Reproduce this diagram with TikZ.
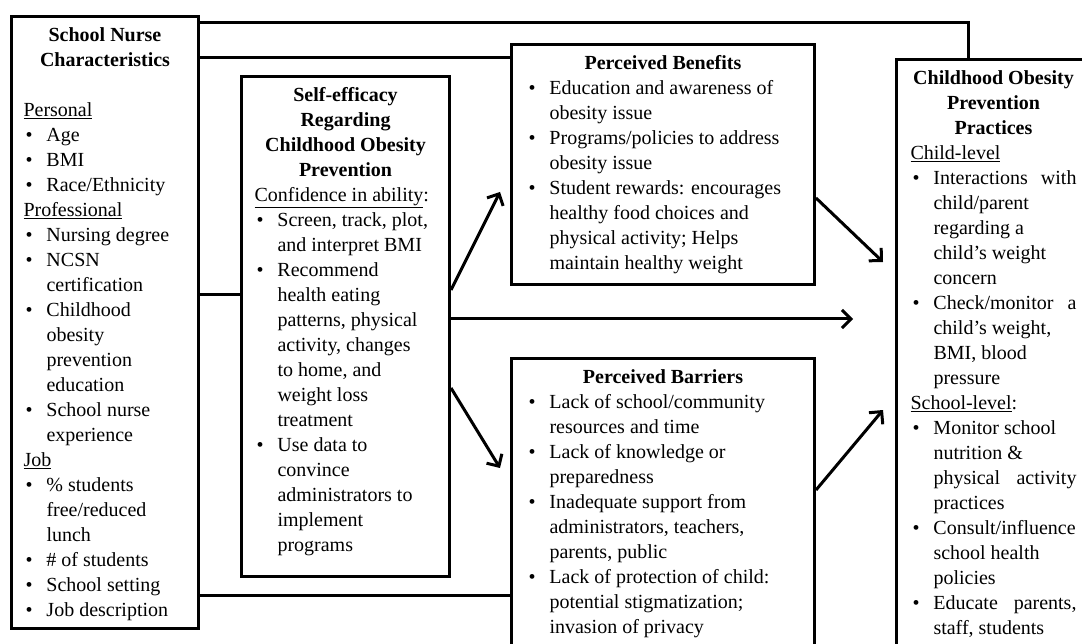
\documentclass[tikz,border=0pt]{standalone}
\usepackage{fontspec}
\setmainfont{Liberation Serif}
\usetikzlibrary{arrows.meta}
\newcommand{\boxtext}[3]{\begin{minipage}[c][#2][t]{#1}\fontsize{20}{25}\selectfont\raggedright\hyphenpenalty=10000\exhyphenpenalty=10000\vspace*{7.5pt}#3\end{minipage}}
\newcommand{\bi}[1]{\par\hangindent=23pt\hangafter=1\noindent\makebox[23pt][l]{\hspace{2pt}\textbullet}#1\par}
\newcommand{\ttl}[1]{{\centering\bfseries\strut #1\par}}
\tikzset{
  box/.style={draw, line width=3pt, inner ysep=0pt, anchor=north west, fill=white},
  conn/.style={line width=3pt},
  arr/.style={line width=3pt, -{Straight Barb[length=9pt,width=18pt,line width=3pt]}}
}
\begin{document}
\begin{tikzpicture}[x=1pt,y=-1pt]
\useasboundingbox (0,0) rectangle (1082,644);
\clip (0,0) rectangle (1082,644);
\fill[white] (0,0) rectangle (1082,644);

\node[box, inner xsep=12pt] (nurse) at (10,15) {\boxtext{163pt}{612pt}{%
\ttl{School Nurse\\Characteristics}
\mbox{}\par
\underline{Personal}\par
\bi{Age}
\bi{BMI}
\bi{Race/Ethnicity}
\underline{Professional}\par
\bi{Nursing degree}
\bi{NCSN\newline certification}
\bi{Childhood\newline obesity\newline prevention\newline education}
\bi{School nurse\newline experience}
\underline{Job}\par
\bi{\% students\newline free/reduced\newline lunch}
\bi{\# of students}
\bi{School setting}
\bi{Job description}}};

\node[box, inner xsep=13pt] (selfeff) at (240,75) {\boxtext{182pt}{500pt}{%
\ttl{Self-efficacy\\Regarding\\Childhood Obesity\\Prevention}
\underline{Confidence in ability}:\par
\bi{Screen, track, plot,\newline and interpret BMI}
\bi{Recommend\newline health eating\newline patterns, physical\newline activity, changes\newline to home, and\newline weight loss\newline treatment}
\bi{Use data to\newline convince\newline administrators to\newline implement\newline programs}}};

\node[box, inner xsep=15pt] (benefits) at (510,43) {\boxtext{273pt}{240pt}{%
\ttl{Perceived Benefits}
\bi{Education and awareness of\newline obesity issue}
\bi{Programs/policies to address\newline obesity issue}
\bi{Student rewards: encourages\newline healthy food choices and\newline physical activity; Helps\newline maintain healthy weight}}};

\node[box, inner xsep=15pt] (barriers) at (510,357) {\boxtext{273pt}{320pt}{%
\ttl{Perceived Barriers}
\bi{Lack of school/community\newline resources and time}
\bi{Lack of knowledge or\newline preparedness}
\bi{Inadequate support from\newline administrators, teachers,\newline parents, public}
\bi{Lack of protection of child:\newline potential stigmatization;\newline invasion of privacy}}};

\node[box, inner xsep=14pt] (practices) at (895,58) {\boxtext{166pt}{620pt}{%
\ttl{Childhood Obesity\\Prevention\\Practices}
\underline{Child-level}\par
\bi{Interactions\hfill with\newline child/parent\newline regarding a\newline child's weight\newline concern}
\bi{Check/monitor\hfill a\newline child's weight,\newline BMI, blood\newline pressure}
\underline{School-level}:\par
\bi{Monitor school\newline nutrition \&\newline physical\hfill activity\newline practices}
\bi{Consult/influence\newline school health\newline policies}
\bi{Educate\hfill parents,\newline staff, students}}};

% plain connectors
\draw[conn] ([yshift=-8pt]nurse.north east) -| ([xshift=73pt]practices.north west);
\draw[conn] ([yshift=-43pt]nurse.north east) -- ([yshift=-15pt]benefits.north west);
\draw[conn] ([yshift=-280pt]nurse.north east) -- ([yshift=-220pt]selfeff.north west);
\draw[conn] ([yshift=-580pt]nurse.north east) -- ([yshift=-238pt]barriers.north west);

% arrow tips (free ends)
\coordinate (t1) at (500,192);
\coordinate (t2) at (500,468);
\coordinate (t5) at (853,319);
\coordinate (t3) at (883,262);
\coordinate (t4) at (883,410);

\draw[arr] ([yshift=-215pt]selfeff.north east) -- (t1);
\draw[arr] ([yshift=-313pt]selfeff.north east) -- (t2);
\draw[arr] ([yshift=-244pt]selfeff.north east) -- (t5);
\draw[arr] ([yshift=-155pt]benefits.north east) -- (t3);
\draw[arr] ([yshift=-133pt]barriers.north east) -- (t4);
\end{tikzpicture}
\end{document}
